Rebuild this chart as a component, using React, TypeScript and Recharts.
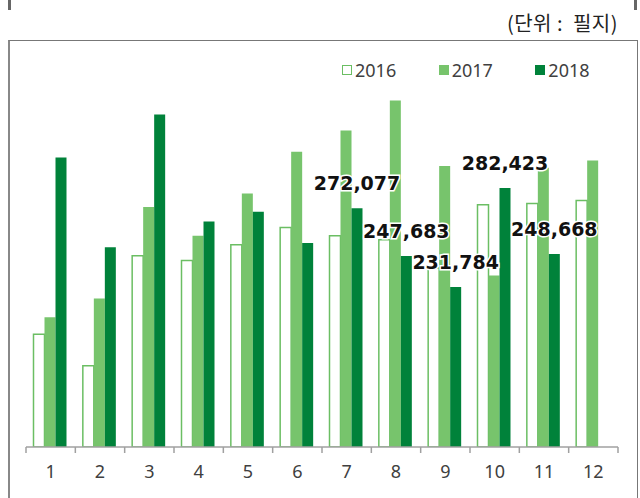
import { BarChart, Bar, XAxis, YAxis, Legend, LabelList } from "recharts";

const months = ["1", "2", "3", "4", "5", "6", "7", "8", "9", "10", "11", "12"];
const y2016 = [207700, 191500, 247800, 245400, 253400, 262300, 258000, 256000, 241600, 273900, 274600, 276100];
const y2017 = [216400, 225900, 272700, 258000, 279700, 301000, 311900, 327300, 293700, 237700, 292800, 296600];
const y2018 = [298100, 252200, 320100, 265400, 270300, 254300, 272077, 247683, 231784, 282423, 248668, null];
const labels2018 = [null, null, null, null, null, null, "272,077", "247,683", "231,784", "282,423", "248,668", null];

const data = months.map((m, i) => ({
  month: m,
  a: y2016[i],
  b: y2017[i],
  c: y2018[i],
  label: labels2018[i],
}));

const W = 640;
const H = 498;
const M = { top: 56, right: 22, left: 26, bottom: 21 };
const band = (W - M.left - M.right) / months.length;

const C2016 = "#6bbe63";
const C2017 = "#77c46c";
const C2018 = "#00823a";
const TEXT = "#404040";

const MonthTick = (props: any) => {
  const { x, y, index } = props;
  const h = band / 2;
  return (
    <g>
      <line x1={x - h} x2={x - h} y1={y} y2={y + 6} stroke="#a0a0a0" strokeWidth={1.5} />
      {index === months.length - 1 && (
        <line x1={x + h} x2={x + h} y1={y} y2={y + 6} stroke="#a0a0a0" strokeWidth={1.5} />
      )}
      <text x={x} y={y + 31} textAnchor="middle" fontSize={18} fill={TEXT} fontFamily="Noto Sans">
        {props.payload.value}
      </text>
    </g>
  );
};

const ValueLabel = (props: any) => {
  const { x, y, width, value } = props;
  if (value == null) return null;
  return (
    <text
      x={x + width / 2}
      y={y - 18}
      textAnchor="middle"
      fontSize={19}
      fontWeight="bold"
      fontFamily="DejaVu Sans"
      fill="#111"
      stroke="#fff"
      strokeWidth={3}
      paintOrder="stroke"
    >
      {value}
    </text>
  );
};

const legendItems = [
  { name: "2016", fill: "#fff", stroke: C2016 },
  { name: "2017", fill: C2017, stroke: C2017 },
  { name: "2018", fill: C2018, stroke: C2018 },
];

const LegendBox = () => (
  <div style={{ display: "flex", fontFamily: "Noto Sans", fontSize: 18, color: TEXT }}>
    {legendItems.map((it) => (
      <div key={it.name} style={{ display: "flex", alignItems: "center", width: 97 }}>
        <span
          style={{
            display: "inline-block",
            width: 8,
            height: 8,
            background: it.fill,
            border: `1.5px solid ${it.stroke}`,
            marginRight: 3,
          }}
        />
        <span>{it.name}</span>
      </div>
    ))}
  </div>
);

export default function App() {
  return (
    <div style={{ position: "absolute", left: 0, top: 0, width: W, height: H, overflow: "hidden", background: "#fff" }}>
      <div style={{ position: "absolute", left: 8, top: 0, width: 3, height: 10, background: "#666" }} />
      <div style={{ position: "absolute", left: 634, top: 0, width: 3, height: 10, background: "#666" }} />
      <div
        style={{
          position: "absolute",
          right: 22,
          top: 8,
          fontFamily: "Noto Sans CJK KR",
          fontSize: 20,
          letterSpacing: 0.5,
          whiteSpace: "pre",
          color: "#222",
        }}
      >
        (단위 :  필지)
      </div>
      <div
        style={{
          position: "absolute",
          left: 8,
          top: 40,
          width: 627,
          height: 480,
          borderTop: "1px solid #777",
          borderLeft: "2px solid #888",
          borderRight: "1px solid #777",
        }}
      />
      <div style={{ position: "absolute", left: 0, top: 0 }}>
        <BarChart width={W} height={H} data={data} margin={M} barCategoryGap={7.5} barGap={0}>
          <XAxis
            dataKey="month"
            height={30}
            tickSize={0}
            tickMargin={0}
            tickLine={false}
            axisLine={{ stroke: "#a0a0a0", strokeWidth: 1.5 }}
            tick={<MonthTick />}
            interval={0}
          />
          <YAxis hide domain={[150000, 350000]} allowDataOverflow />
          <Legend
            layout="horizontal"
            verticalAlign="middle"
            align="center"
            content={<LegendBox />}
            wrapperStyle={{ position: "absolute", top: 58, left: 342, width: 290, height: 24 }}
          />
          <Bar dataKey="a" name="2016" fill="#fff" stroke={C2016} strokeWidth={1.5} isAnimationActive={false} />
          <Bar dataKey="b" name="2017" fill={C2017} isAnimationActive={false} />
          <Bar dataKey="c" name="2018" fill={C2018} isAnimationActive={false}>
            <LabelList dataKey="label" content={<ValueLabel />} />
          </Bar>
        </BarChart>
      </div>
    </div>
  );
}
